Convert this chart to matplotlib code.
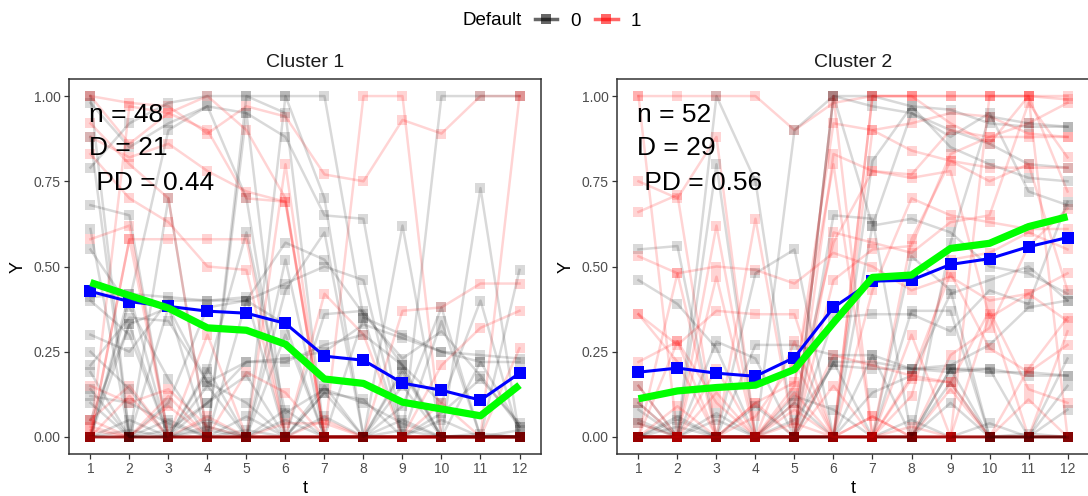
import matplotlib.pyplot as plt
from matplotlib.lines import Line2D
import numpy as np

plt.rcParams['font.family'] = ['Liberation Sans', 'DejaVu Sans']

t = np.arange(1, 13)

# cluster 1 trajectories, Default = 0
c1_default0 = [
    [0.98, 0.85, 0.92, 0.97, 0.95, 0.88, 0.65, 0.64, 0.00, 0.00, 0.00, 0.00],
    [0.68, 0.65, 0.00, 0.00, 0.02, 0.00, 0.00, 0.00, 0.00, 0.00, 0.00, 0.00],
    [0.61, 0.00, 0.38, 0.00, 1.00, 1.00, 1.00, 0.35, 0.30, 0.25, 0.22, 0.22],
    [0.30, 0.25, 0.40, 0.40, 0.40, 0.45, 0.50, 0.46, 0.00, 0.00, 0.00, 0.00],
    [0.21, 0.35, 0.34, 0.16, 0.10, 0.00, 0.00, 0.00, 0.00, 0.00, 0.73, 0.00],
    [0.12, 0.10, 0.04, 0.00, 0.06, 0.00, 0.13, 0.11, 0.00, 0.05, 0.00, 0.00],
    [0.00, 0.40, 0.90, 0.97, 0.70, 0.00, 0.15, 0.00, 0.00, 0.00, 0.00, 0.00],
    [0.79, 0.92, 0.98, 1.00, 1.00, 0.95, 0.00, 0.00, 0.62, 0.00, 0.00, 0.00],
    [0.41, 0.42, 0.41, 0.40, 0.41, 0.00, 0.36, 0.37, 0.21, 0.10, 0.40, 0.00],
    [0.00, 0.02, 0.00, 0.02, 0.00, 0.08, 0.00, 0.00, 0.02, 0.00, 0.22, 0.03],
    [0.05, 0.33, 0.38, 0.16, 0.22, 0.23, 0.25, 0.33, 0.29, 0.25, 0.24, 0.23],
    [0.00, 0.00, 0.10, 0.38, 0.40, 0.57, 0.52, 0.36, 0.23, 0.31, 0.18, 0.03],
    [0.25, 0.14, 0.00, 0.10, 0.22, 0.22, 0.27, 0.30, 0.21, 0.00, 0.00, 0.00],
    [0.00, 0.42, 0.00, 0.05, 0.00, 0.05, 0.00, 0.00, 0.15, 0.00, 0.00, 0.00],
    [0.00, 0.00, 0.00, 0.00, 0.00, 0.00, 0.00, 0.00, 0.00, 1.00, 1.00, 1.00],
    [0.19, 0.00, 0.00, 0.19, 0.60, 0.07, 0.14, 0.10, 0.04, 0.00, 0.00, 0.49],
    [0.55, 0.38, 0.17, 0.00, 0.00, 0.30, 0.00, 0.00, 0.09, 0.38, 0.00, 0.02],
    [0.00, 0.00, 0.70, 0.00, 0.95, 0.00, 0.00, 0.00, 0.20, 0.00, 0.00, 0.00],
    [0.40, 0.30, 0.00, 0.00, 0.40, 0.33, 0.00, 0.00, 0.00, 0.00, 0.00, 0.00],
    [0.00, 0.05, 0.00, 0.20, 0.00, 0.43, 0.60, 0.00, 0.00, 0.00, 0.00, 0.00],
    [0.00, 0.00, 0.00, 0.00, 0.00, 0.52, 0.00, 0.35, 0.00, 0.34, 0.00, 0.00],
    [0.14, 0.00, 0.02, 0.10, 0.18, 0.00, 0.13, 0.00, 0.00, 0.07, 0.17, 0.04],
    [0.00, 0.33, 0.00, 0.15, 0.00, 0.00, 0.00, 0.00, 0.19, 0.00, 0.00, 0.00],
    [1.00, 0.00, 0.00, 0.03, 0.00, 0.00, 0.06, 0.00, 0.00, 0.00, 0.00, 0.00],
    [0.00, 0.00, 0.00, 0.00, 0.00, 1.00, 0.70, 0.00, 0.00, 0.00, 0.00, 0.00],
    [0.88, 0.00, 0.05, 0.00, 0.00, 0.00, 0.00, 0.00, 0.00, 0.00, 0.01, 0.00],
    [0.10, 0.00, 0.00, 0.00, 0.00, 0.00, 0.00, 0.00, 0.05, 0.00, 0.00, 0.00],
]

# cluster 1 trajectories, Default = 1
c1_default1 = [
    [1.00, 0.98, 0.97, 0.89, 0.97, 0.94, 0.77, 0.75, 0.93, 0.89, 1.00, 1.00],
    [1.00, 0.86, 0.95, 1.00, 0.90, 0.70, 0.00, 1.00, 1.00, 0.00, 0.00, 0.00],
    [0.88, 0.82, 0.86, 0.78, 0.72, 0.69, 0.00, 0.00, 0.00, 0.00, 0.00, 0.00],
    [0.00, 0.58, 0.58, 0.58, 0.58, 0.00, 0.00, 0.00, 0.00, 0.00, 0.00, 0.00],
    [0.15, 0.10, 0.14, 0.03, 0.00, 0.00, 0.05, 0.00, 0.00, 0.00, 0.00, 0.00],
    [0.00, 0.12, 0.00, 0.06, 0.00, 0.04, 0.04, 0.00, 0.00, 0.00, 0.00, 0.00],
    [0.05, 0.15, 0.00, 0.00, 0.00, 0.00, 0.00, 0.00, 0.00, 0.00, 0.00, 0.00],
    [0.00, 0.00, 0.00, 0.00, 0.00, 0.00, 0.00, 0.00, 0.37, 0.38, 0.45, 0.45],
    [0.00, 0.00, 0.00, 0.30, 0.00, 0.00, 0.42, 0.30, 0.00, 0.00, 0.00, 0.00],
    [0.03, 0.00, 0.00, 0.00, 0.00, 0.00, 0.00, 0.00, 0.00, 0.21, 0.32, 0.37],
    [0.05, 0.00, 0.00, 0.00, 0.00, 0.00, 0.00, 0.00, 0.00, 0.10, 0.00, 0.00],
    [0.83, 0.70, 0.63, 0.50, 0.49, 0.00, 0.00, 0.00, 0.00, 0.00, 0.00, 0.00],
    [0.00, 0.97, 0.95, 0.90, 0.70, 0.69, 0.00, 0.00, 0.00, 0.00, 0.00, 0.00],
    [0.00, 0.00, 0.09, 0.00, 0.00, 0.00, 0.00, 0.00, 0.00, 0.00, 0.00, 0.00],
    [0.02, 0.00, 0.00, 0.00, 0.00, 0.00, 0.00, 0.00, 0.00, 0.00, 0.00, 0.26],
    [0.00, 0.00, 0.00, 0.00, 0.00, 0.00, 0.00, 0.00, 0.00, 0.00, 0.00, 1.00],
    [0.92, 0.80, 0.70, 0.00, 0.19, 0.13, 0.00, 0.00, 0.00, 0.00, 0.00, 0.00],
    [0.00, 0.58, 0.00, 0.00, 0.00, 0.80, 0.00, 0.00, 0.00, 0.00, 0.00, 0.00],
    [0.00, 0.00, 0.12, 0.00, 0.00, 0.00, 0.00, 0.00, 0.00, 0.00, 0.00, 0.00],
    [0.00, 0.00, 0.00, 0.00, 0.00, 0.00, 0.00, 0.00, 0.00, 0.00, 0.00, 0.00],
    [0.58, 0.62, 0.00, 0.00, 0.00, 0.00, 0.00, 0.00, 0.00, 0.00, 0.00, 0.00],
]

# cluster 2 trajectories, Default = 0
c2_default0 = [
    [0.46, 0.39, 0.26, 0.00, 0.00, 1.00, 0.97, 0.95, 0.90, 0.86, 0.80, 0.79],
    [0.00, 0.00, 0.00, 0.00, 0.00, 0.22, 0.22, 0.20, 0.20, 0.19, 0.19, 0.18],
    [0.00, 0.00, 0.00, 0.00, 0.05, 0.21, 0.20, 0.20, 0.19, 0.20, 0.18, 0.18],
    [0.55, 0.56, 0.00, 0.27, 0.27, 0.24, 0.24, 0.20, 0.21, 0.27, 0.38, 0.40],
    [0.00, 0.00, 0.00, 0.00, 0.00, 1.00, 1.00, 0.97, 0.96, 0.92, 0.91, 0.91],
    [0.15, 0.00, 0.00, 0.00, 0.00, 0.00, 0.62, 0.64, 0.60, 0.50, 0.48, 0.42],
    [0.00, 0.05, 0.00, 0.00, 0.12, 0.08, 0.00, 0.00, 0.00, 0.04, 0.00, 0.00],
    [0.00, 0.00, 0.07, 0.00, 0.00, 0.00, 0.00, 0.05, 0.00, 0.00, 0.01, 0.00],
    [0.05, 0.00, 0.05, 0.00, 0.00, 0.00, 0.13, 0.18, 0.42, 0.46, 0.50, 0.40],
    [0.10, 0.00, 0.28, 0.23, 0.00, 0.35, 0.36, 0.36, 0.31, 0.43, 0.39, 0.69],
    [0.00, 0.00, 0.00, 0.48, 0.55, 0.00, 0.00, 0.00, 0.00, 0.00, 0.00, 0.00],
    [0.00, 0.00, 0.00, 0.00, 0.90, 1.00, 0.62, 0.95, 0.88, 0.95, 0.72, 0.68],
    [0.00, 0.00, 0.80, 0.00, 0.00, 0.00, 0.00, 0.00, 0.20, 0.20, 0.00, 0.15],
    [0.00, 0.00, 0.00, 0.00, 0.10, 0.00, 0.81, 0.97, 0.85, 0.80, 0.76, 0.75],
    [0.08, 0.00, 0.00, 0.00, 0.00, 0.00, 0.00, 0.00, 0.00, 0.00, 0.00, 0.23],
    [0.00, 0.00, 0.00, 0.00, 0.00, 0.00, 0.00, 0.00, 0.10, 0.00, 0.00, 0.08],
    [0.00, 0.00, 1.00, 0.75, 0.00, 0.00, 0.00, 0.53, 0.43, 0.00, 0.00, 0.00],
    [0.00, 0.00, 0.00, 0.00, 0.00, 0.22, 0.00, 0.00, 0.16, 0.00, 0.00, 0.00],
    [0.00, 0.00, 0.00, 0.00, 0.00, 0.00, 0.00, 0.00, 0.57, 0.94, 0.92, 0.91],
    [0.04, 0.00, 0.00, 0.00, 0.00, 0.00, 0.00, 0.37, 0.37, 0.00, 0.00, 0.00],
    [0.00, 0.03, 0.00, 0.09, 0.00, 0.00, 0.00, 0.00, 0.00, 0.00, 0.00, 0.00],
    [0.00, 0.06, 0.00, 0.00, 0.00, 0.00, 0.24, 0.00, 0.20, 0.00, 0.00, 0.00],
    [0.00, 0.00, 0.00, 0.00, 0.00, 0.65, 0.64, 0.00, 0.00, 0.00, 0.00, 0.00],
]

# cluster 2 trajectories, Default = 1
c2_default1 = [
    [1.00, 1.00, 1.00, 1.00, 0.90, 0.98, 1.00, 1.00, 1.00, 1.00, 1.00, 1.00],
    [0.75, 0.70, 0.88, 0.00, 0.00, 0.00, 1.00, 1.00, 1.00, 1.00, 1.00, 0.99],
    [0.66, 0.71, 0.00, 0.00, 0.00, 0.00, 0.90, 0.84, 0.81, 0.79, 0.79, 0.79],
    [0.36, 0.27, 0.37, 0.36, 0.36, 0.00, 0.00, 0.00, 0.00, 0.00, 0.00, 0.00],
    [0.22, 0.28, 0.10, 0.00, 0.00, 0.83, 0.78, 0.76, 0.78, 0.35, 0.42, 0.48],
    [0.00, 0.00, 0.00, 0.00, 0.15, 0.92, 0.90, 0.92, 0.95, 0.94, 0.89, 0.88],
    [0.00, 0.48, 0.50, 0.49, 0.45, 0.54, 0.50, 0.43, 0.47, 0.40, 0.42, 0.34],
    [0.00, 0.00, 0.00, 0.00, 0.00, 0.00, 0.00, 0.00, 0.24, 0.32, 0.56, 0.67],
    [0.36, 0.22, 0.00, 0.10, 0.00, 0.00, 0.06, 0.00, 0.00, 0.00, 0.00, 0.00],
    [0.10, 0.00, 0.00, 0.10, 0.16, 0.80, 0.00, 0.00, 0.00, 0.00, 0.00, 0.00],
    [0.00, 0.00, 0.00, 0.00, 0.00, 0.00, 0.00, 0.18, 0.16, 0.37, 0.14, 0.10],
    [0.00, 0.00, 0.20, 0.00, 0.00, 0.00, 1.00, 1.00, 0.92, 0.86, 1.00, 0.72],
    [0.00, 0.00, 0.00, 0.00, 0.00, 0.00, 0.43, 0.70, 0.65, 0.63, 0.61, 0.61],
    [0.53, 0.48, 0.00, 0.06, 0.22, 0.00, 0.00, 0.00, 0.00, 0.00, 0.00, 0.00],
    [0.00, 0.00, 0.00, 0.00, 0.00, 1.00, 0.00, 0.00, 0.00, 0.00, 0.00, 0.00],
    [0.00, 0.00, 0.00, 0.00, 0.10, 0.57, 0.78, 0.77, 0.90, 0.88, 0.88, 0.88],
    [0.00, 0.28, 0.00, 0.00, 0.28, 0.00, 0.00, 0.00, 0.14, 0.00, 0.20, 0.35],
    [0.04, 0.00, 0.13, 0.00, 0.08, 0.00, 0.00, 0.03, 0.00, 0.00, 0.00, 0.00],
    [0.00, 0.00, 0.62, 0.00, 0.00, 0.24, 0.21, 0.18, 0.48, 0.26, 0.19, 0.27],
    [0.00, 0.00, 0.00, 0.64, 0.00, 0.46, 0.55, 0.56, 0.83, 0.88, 0.92, 0.98],
    [0.00, 0.00, 0.00, 0.00, 0.00, 0.00, 0.00, 0.12, 0.52, 0.54, 0.60, 0.55],
    [1.00, 0.00, 0.00, 0.00, 0.00, 0.00, 0.06, 0.00, 0.00, 0.00, 0.00, 0.00],
    [0.00, 0.09, 0.00, 0.00, 0.00, 0.00, 0.00, 0.00, 0.00, 0.00, 0.00, 0.00],
    [0.00, 0.00, 0.00, 0.00, 0.00, 0.00, 0.00, 0.58, 0.81, 0.75, 0.80, 0.43],
    [0.15, 0.00, 0.47, 0.00, 0.13, 0.00, 0.00, 0.00, 0.00, 0.00, 0.11, 0.00],
    [0.00, 0.00, 0.00, 0.00, 0.00, 0.15, 0.00, 0.30, 0.00, 0.36, 0.00, 0.00],
    [0.00, 0.00, 0.00, 0.00, 0.00, 0.60, 0.57, 0.54, 0.63, 0.65, 0.98, 0.82],
    [0.00, 0.00, 0.00, 0.00, 0.04, 0.00, 0.00, 0.17, 0.16, 0.00, 0.00, 0.31],
    [0.00, 0.00, 0.00, 0.00, 0.00, 0.00, 0.00, 0.00, 0.00, 1.00, 1.00, 0.00],
]

# cluster mean (blue) and fitted curve (green)
c1_mean = [0.427, 0.397, 0.383, 0.369, 0.363, 0.333, 0.237, 0.225, 0.158, 0.137, 0.108, 0.187]
c1_fit = [0.453, 0.415, 0.378, 0.320, 0.313, 0.272, 0.170, 0.157, 0.102, 0.082, 0.062, 0.152]
c2_mean = [0.190, 0.202, 0.187, 0.178, 0.233, 0.380, 0.457, 0.460, 0.506, 0.523, 0.558, 0.585]
c2_fit = [0.112, 0.135, 0.145, 0.152, 0.198, 0.335, 0.468, 0.475, 0.553, 0.568, 0.617, 0.646]

titles = ['Cluster 1', 'Cluster 2']
n_obs = [48, 52]
n_default = [21, 29]
pd_rate = [0.44, 0.56]

fig = plt.figure(figsize=(10.88, 4.96), dpi=100)
ax1 = fig.add_axes([0.0634, 0.0847, 0.4338, 0.756])
ax2 = fig.add_axes([0.5671, 0.0847, 0.4338, 0.756])

panels = [(ax1, c1_default0, c1_default1, c1_mean, c1_fit),
          (ax2, c2_default0, c2_default1, c2_mean, c2_fit)]

for i, (ax, g0, g1, m, f) in enumerate(panels):
    # spread the two groups evenly through the drawing order so overlaps mix
    order = [((k + 0.5) / len(g0), 'black', row) for k, row in enumerate(g0)]
    order += [((k + 0.5) / len(g1), 'red', row) for k, row in enumerate(g1)]
    order.sort(key=lambda x: x[0])
    for _, col, row in order:
        a = 0.15 if col == 'black' else 0.17
        ax.plot(t, row, color=col, alpha=a, lw=1.8, marker='s', ms=7.5, mew=0, zorder=2)
    ax.plot(t, m, color='blue', lw=2.2, marker='s', ms=8.5, mew=0, zorder=4)
    ax.plot(t, f, color='#00ff00', lw=5.2, solid_capstyle='butt', zorder=5)

    ax.text(0.97, 0.944, 'n = %d' % n_obs[i], fontsize=19, ha='left', va='center', zorder=6)
    ax.text(0.97, 0.848, 'D = %d' % n_default[i], fontsize=19, ha='left', va='center', zorder=6)
    ax.text(0.97, 0.746, ' PD = %.2f' % pd_rate[i], fontsize=19, ha='left', va='center', zorder=6)

    ax.set_xlim(0.45, 12.55)
    ax.set_ylim(-0.05, 1.05)
    ax.set_xticks(t)
    ax.set_yticks([0, 0.25, 0.5, 0.75, 1.0])
    ax.set_yticklabels(['0.00', '0.25', '0.50', '0.75', '1.00'])
    ax.tick_params(labelsize=10, colors='#333333', labelcolor='#4d4d4d', length=3.5, width=0.9, pad=2.5)
    for s in ax.spines.values():
        s.set_color('#333333')
        s.set_linewidth(1.1)
    ax.set_title(titles[i], fontsize=14, pad=8.5, color='#1a1a1a')
    ax.set_xlabel('t', fontsize=13, labelpad=3)
    ax.set_ylabel('Y', fontsize=13, labelpad=5)

# legend
fig.text(0.425, 0.9577, 'Default', fontsize=13.5, ha='left', va='center')
handles = [Line2D([], [], color='black', alpha=0.6, lw=2.5, marker='s', ms=7, mew=0),
           Line2D([], [], color='red', alpha=0.6, lw=2.5, marker='s', ms=7, mew=0)]
fig.legend(handles, ['0', '1'], loc='center left', bbox_to_anchor=(0.4917, 0.9577),
           ncol=2, frameon=False, fontsize=13.5, handlelength=1.2, handletextpad=0.7,
           columnspacing=0.75, borderpad=0, borderaxespad=0)

fig.savefig('out.png', dpi=100)
